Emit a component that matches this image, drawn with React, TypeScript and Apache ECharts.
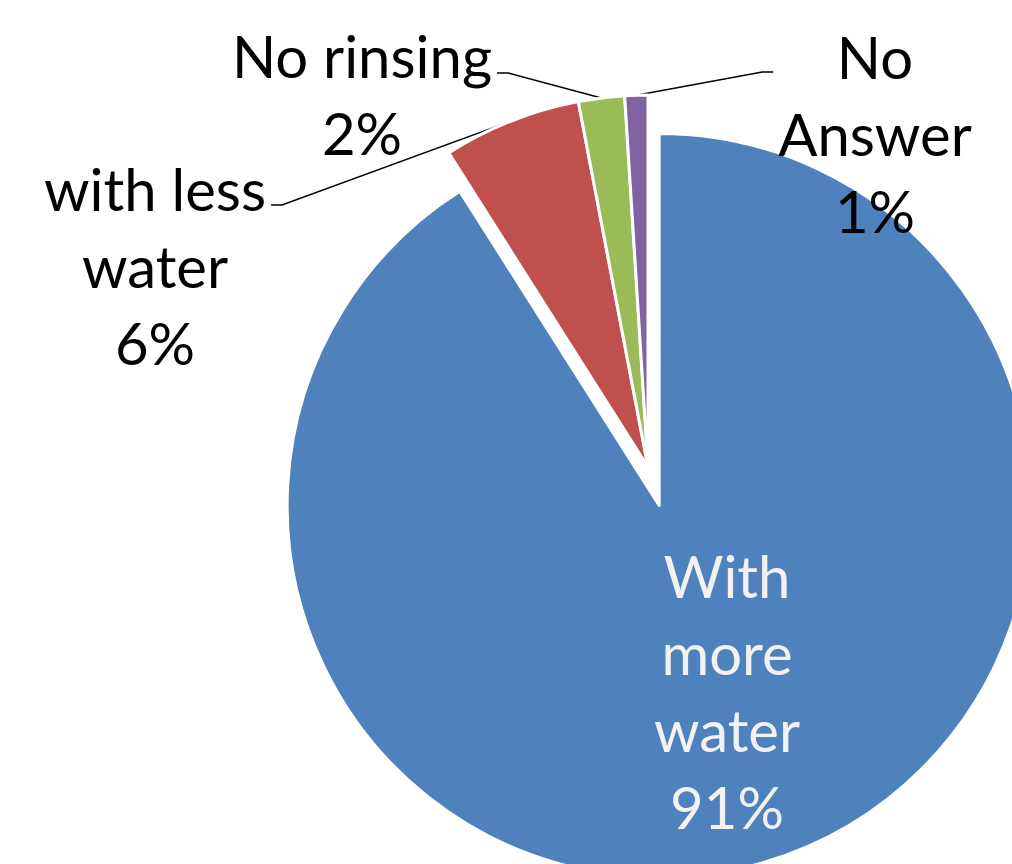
import React, { useEffect, useRef } from "react";
import * as echarts from "echarts";

// Survey answers, share of respondents in percent
const categories = ["With\nmore\nwater", "with less\nwater", "No rinsing", "No\nAnswer"];
const shares = [91, 6, 2, 1];
const sliceColors = ["#4F81BD", "#C0504D", "#9BBB59", "#8064A2"];

// Label blocks: centre (px) and how far above that centre the leader line attaches
const labelCenters = [
  [727, 691],
  [155, 265],
  [362, 94],
  [875, 133],
];
const leaderAttachDy = [0, -60, -21, -61];

const PIE_CENTER = [648, 467];
const PIE_RADIUS = 372;
const EXPLODE = 40; // how far the large slice is pulled out

export default function App() {
  const ref = useRef<HTMLDivElement>(null);

  useEffect(() => {
    if (!ref.current) return;
    const chart = echarts.init(ref.current, undefined, { renderer: "svg" });

    // The large slice is drawn by its own pie, shifted outward along its bisector
    const total = shares.reduce((a, b) => a + b, 0);
    const mid = (Math.PI * shares[0]) / total; // clockwise from 12 o'clock
    const bigCenter = [
      PIE_CENTER[0] + EXPLODE * Math.sin(mid),
      PIE_CENTER[1] - EXPLODE * Math.cos(mid),
    ];

    const hidden = {
      itemStyle: { color: "transparent", borderWidth: 0 },
      label: { show: false },
      labelLine: { show: false },
    };

    const bigData = categories.map((name, i) =>
      i === 0
        ? {
            name,
            value: shares[i],
            itemStyle: { color: sliceColors[i] },
            label: { show: true, position: "inside" as const, color: "#f2f2f2" },
            labelLine: { show: false },
          }
        : { name, value: shares[i], ...hidden }
    );

    const smallData = categories.map((name, i) =>
      i === 0
        ? { name, value: shares[i], ...hidden }
        : {
            name,
            value: shares[i],
            itemStyle: { color: sliceColors[i] },
            label: { show: true, position: "outside" as const, color: "#000000" },
            labelLine: { show: true },
          }
    );

    const labelLayout = (p: any) => {
      const i = p.dataIndex;
      const [cx, cy] = labelCenters[i];
      const out: any = { x: cx, y: cy, align: "center", verticalAlign: "middle" };
      if (i > 0 && p.labelLinePoints) {
        const start = p.labelLinePoints[0];
        const halfW = p.labelRect.width / 2;
        const side = cx < start[0] ? 1 : -1;
        const ax = cx + side * (halfW + 5);
        const ay = cy + leaderAttachDy[i];
        out.labelLinePoints = [
          [start[0], start[1]],
          [ax + side * 11, ay],
          [ax, ay],
        ];
      }
      return out;
    };

    const common = {
      type: "pie" as const,
      radius: PIE_RADIUS,
      startAngle: 90,
      clockwise: true,
      silent: true,
      avoidLabelOverlap: false,
      itemStyle: { borderColor: "#ffffff", borderWidth: 3 },
      emphasis: { disabled: true },
      label: {
        fontFamily: "Lato",
        fontSize: 58,
        lineHeight: 77,
        edgeDistance: 0,
        bleedMargin: 0,
        formatter: (p: any) => `${p.name}\n${p.value}%`,
      },
      labelLine: { lineStyle: { color: "#000000", width: 1.5 } },
      labelLayout,
    };

    chart.setOption({
      animation: false,
      backgroundColor: "#ffffff",
      series: [
        { ...common, center: bigCenter, data: bigData },
        { ...common, center: PIE_CENTER, data: smallData },
      ],
    });

    return () => chart.dispose();
  }, []);

  return (
    <div
      ref={ref}
      style={{ position: "absolute", left: 0, top: 0, width: 1012, height: 864 }}
    />
  );
}
